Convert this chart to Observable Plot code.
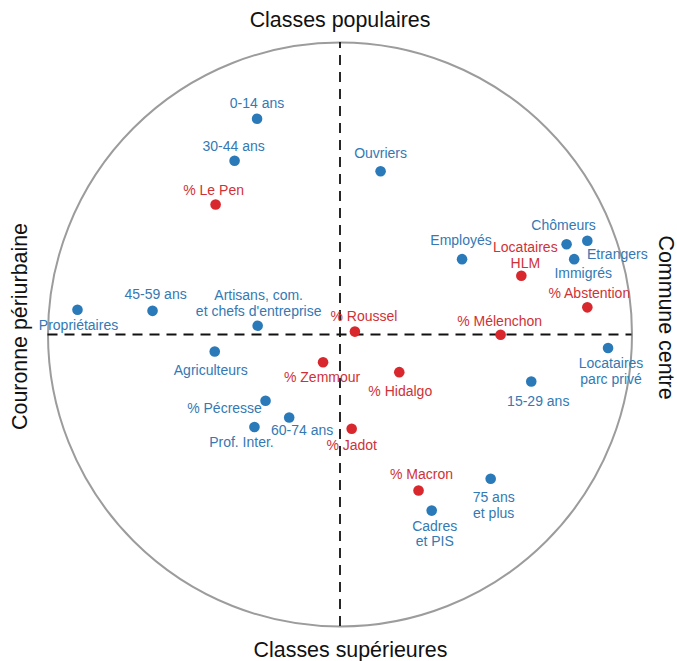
<!DOCTYPE html>
<html>
<head>
<meta charset="utf-8">
<script src="https://cdn.jsdelivr.net/npm/d3@7"></script>
<script src="https://cdn.jsdelivr.net/npm/@observablehq/plot@0.6"></script>
<style>
  html, body { margin: 0; padding: 0; background: #fff; }
  #chart svg { display: block; }
</style>
</head>
<body>
<div id="chart"></div>
<script>
// ---- Data (coordinates on the correlation circle) ----
const labels = [
  "0-14 ans", "30-44 ans", "% Le Pen", "Ouvriers", "Chômeurs", "Etrangers", "Immigrés",
  "Employés", "Locataires\nHLM", "% Abstention", "Propriétaires", "45-59 ans",
  "Artisans, com.\net chefs d'entreprise", "% Roussel", "% Mélenchon", "Locataires\nparc privé",
  "Agriculteurs", "% Zemmour", "% Hidalgo", "15-29 ans", "% Pécresse", "60-74 ans",
  "Prof. Inter.", "% Jadot", "% Macron", "Cadres\net PIS", "75 ans\net plus"
];
const dim1 = [
  -0.284, -0.361, -0.426, 0.139, 0.776, 0.847, 0.802,
  0.418, 0.621, 0.847, -0.899, -0.642,
  -0.282, 0.051, 0.550, 0.918,
  -0.429, -0.058, 0.203, 0.655, -0.255, -0.174,
  -0.293, 0.040, 0.269, 0.314, 0.516
];
const dim2 = [
  0.739, 0.595, 0.445, 0.559, 0.309, 0.321, 0.258,
  0.258, 0.201, 0.093, 0.085, 0.081,
  0.030, 0.010, -0.001, -0.046,
  -0.058, -0.095, -0.129, -0.161, -0.227, -0.284,
  -0.317, -0.323, -0.534, -0.603, -0.494
];
const kind = [
  "socio", "socio", "vote", "socio", "socio", "socio", "socio",
  "socio", "vote", "vote", "socio", "socio",
  "socio", "vote", "vote", "socio",
  "socio", "vote", "vote", "socio", "socio", "socio",
  "socio", "vote", "vote", "socio", "socio"
];
const axisTitles = ["Classes populaires", "Classes supérieures", "Couronne périurbaine", "Commune centre"];

// ---- Layout (label offsets in pixels, styles) ----
const labelDx = [0, -1, -2, 0, -3, 30, 9, -1, 4, 2, 1, 3, 1, 9, -1, 3, -4, -1, 1, 7, -41, 13, -13, 0, 3, 3, 3];
const labelDy = [-15.5, -15, -15, -18, -19.5, 13.5, 14, -18.7, -21, -14, 15, -16.5, -23, -16, -13.5, 23, 18.3, 15, 19, 19, 7, 12.7, 15, 15.7, -16.7, 23, 26.5];

const dotColor = {socio: "#2a79b9", vote: "#d9282d"};
const textColor = {socio: "#3479b3", vote: "#cf3236"};

const data = labels.map((label, i) => ({label, x: dim1[i], y: dim2[i], kind: kind[i], dx: labelDx[i], dy: labelDy[i]}));

const W = 677, H = 661;
const mL = 47.5, mR = 45.5, mT = 42, mB = 35;
const R = (W - mL - mR) / 2;

const font = "'Liberation Sans', Arial, Helvetica, sans-serif";
const titleStyle = {fontSize: 21.4, fill: "#111", textAnchor: "middle", lineAnchor: "middle"};

const marks = [
  // correlation circle
  Plot.dot([{x: 0, y: 0}], {x: "x", y: "y", r: R, stroke: "#9c9c9c", strokeWidth: 2, fill: "none"}),
  // dashed axes
  Plot.ruleX([0], {y1: -1, y2: 1, stroke: "#111", strokeWidth: 1.8, strokeDasharray: "10,7"}),
  Plot.ruleY([0], {x1: -1, x2: 1, stroke: "#111", strokeWidth: 1.8, strokeDasharray: "10,7"}),
  // points
  Plot.dot(data, {x: "x", y: "y", r: 5.3, fill: d => dotColor[d.kind], stroke: "none"}),
  // labels
  ...data.map(d => Plot.text([d], {
    x: "x", y: "y", text: "label", fill: textColor[d.kind],
    dx: d.dx, dy: d.dy, fontSize: 14, lineHeight: 1.12, textAnchor: "middle"
  })),
  // axis titles
  Plot.text([axisTitles[0]], {frameAnchor: "top", text: d => d, dy: -22, ...titleStyle}),
  Plot.text([axisTitles[1]], {frameAnchor: "bottom", text: d => d, dx: 10.5, dy: 24, ...titleStyle}),
  Plot.text([axisTitles[2]], {frameAnchor: "left", text: d => d, dx: -27.5, dy: -8, rotate: -90, ...titleStyle}),
  Plot.text([axisTitles[3]], {frameAnchor: "right", text: d => d, dx: 33.5, dy: -17, rotate: 90, ...titleStyle})
];

const chart = Plot.plot({
  width: W,
  height: H,
  marginLeft: mL,
  marginRight: mR,
  marginTop: mT,
  marginBottom: mB,
  x: {domain: [-1, 1], axis: null},
  y: {domain: [-1, 1], axis: null},
  style: {fontFamily: font, background: "#fff", overflow: "visible"},
  marks
});
document.getElementById("chart").appendChild(chart);
</script>
</body>
</html>
